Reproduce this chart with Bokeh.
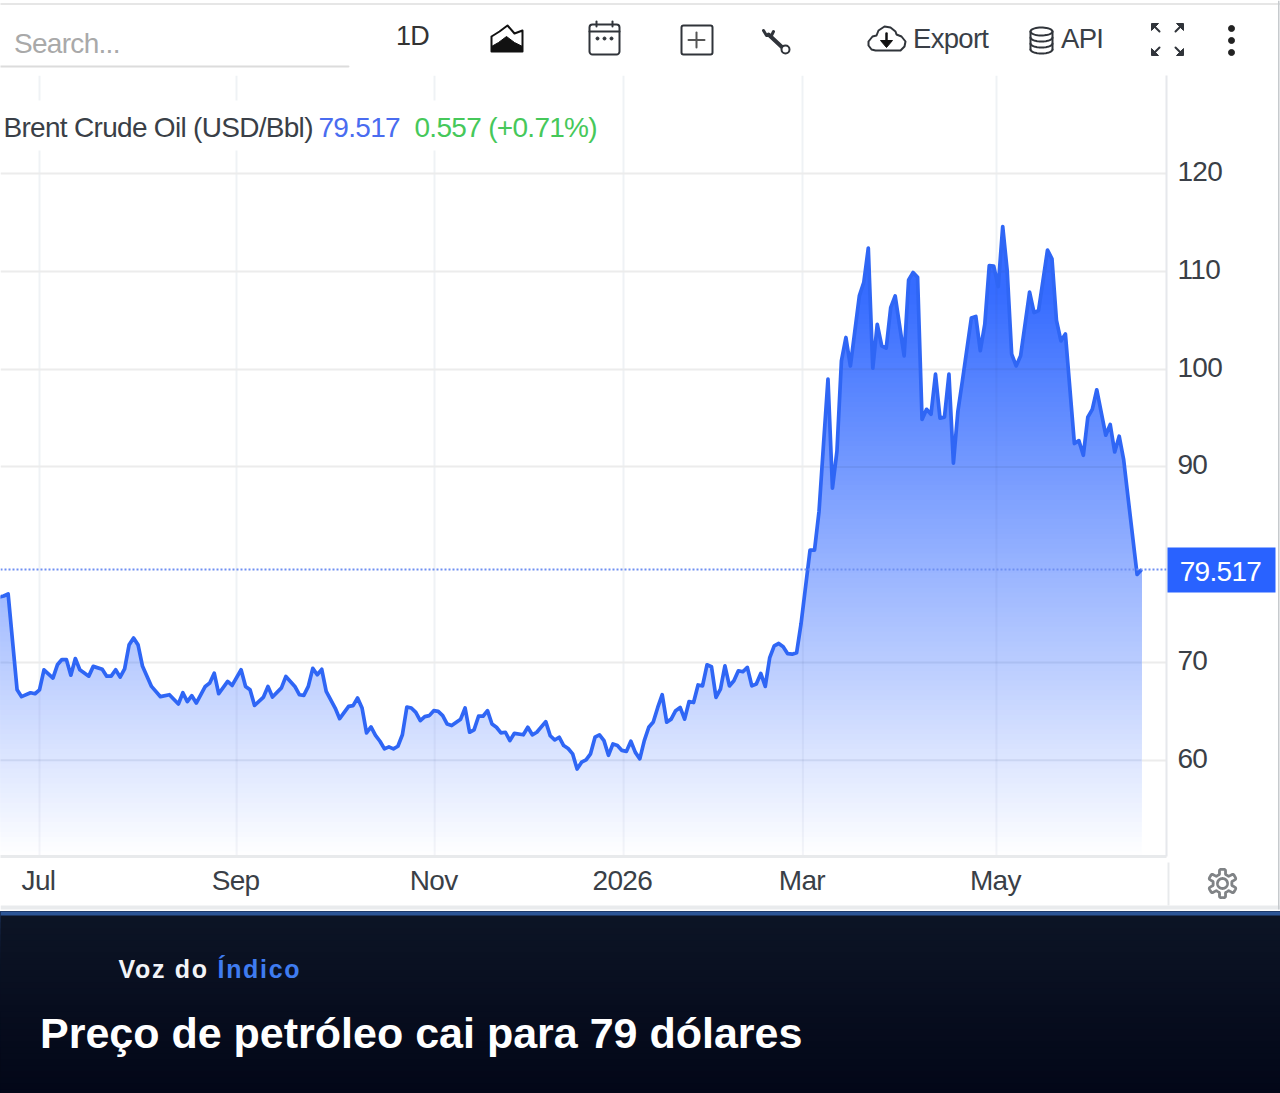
import numpy as np
from bokeh.core.properties import value
from bokeh.embed import file_html
from bokeh.layouts import column
from bokeh.models import FixedTicker, Range1d, Span, BoxAnnotation, Label
from bokeh.plotting import figure
from bokeh.resources import INLINE

# ---------- data (session number = trading day counted from 1 July 2025) ----------
sessions_h2 = [-9,-8,-7,-5,-4,-2,-1,0,1,3,4,5,6,7,8,9,11,12,14,15,16,17,18,19,20,21,22,23,25,27,29,31,32,33,34,35,
               37,38,39,40,42,43,45,46,47,48,50,51,52,54,55,57,58,59,60,61,62,63,64,66,67,69,70,71,72,73,74,75,76,
               77,78,79,80,81,82,83,84,85]
prices_h2 = [76.7,76.8,77.0,67.2,66.5,66.9,66.8,67.2,69.25,68.4,69.76,70.3,70.3,68.7,70.4,69.25,68.6,69.6,69.3,68.6,
             68.6,69.25,68.5,69.35,71.8,72.5,71.8,69.6,67.55,66.5,66.7,65.75,66.9,66.0,66.6,65.85,67.55,67.9,68.9,
             66.8,68.06,67.65,69.25,67.55,67.2,65.6,66.46,67.55,66.46,67.4,68.57,67.55,66.7,66.63,67.55,69.4,68.74,
             69.3,67.04,65.34,64.25,65.5,65.58,66.36,65.34,62.8,63.4,62.55,61.94,61.16,61.36,61.16,61.43,62.6,65.44,
             65.34,64.9,64.05]
sessions_mid = [86,87,88,89,90,91,92,94,95,96,97,98,99,100,101,102,103,104,105,106,108,109,110,111,113,114,115,116,117,
                118,119,120,121,122,123,124,125,126,127,128,129,130,131,132,133,134,135,136,137,138,139,140,141,142,
                143,144,145,146,147,148,149,150,151,152,153,154,155,156,157,158,159,160,161,162,163,164,165,166,167,
                168,169]
prices_mid = [64.46,64.56,65.07,65.0,64.56,63.7,63.54,64.2,65.34,62.86,63.1,64.5,64.5,65.07,63.7,63.37,62.8,62.86,62.0,
              62.75,62.6,63.37,62.6,62.86,63.95,62.5,62.07,62.35,61.5,61.2,60.65,59.1,59.8,60.03,60.65,62.35,62.6,
              62.0,60.5,61.67,61.5,61.0,60.9,61.94,60.8,60.14,62.0,63.37,63.9,65.4,66.7,63.9,64.2,65.07,65.4,64.2,
              66.0,65.9,67.7,67.6,69.76,69.56,66.43,67.28,69.66,67.6,68.13,69.15,69.05,69.5,67.6,67.8,68.88,67.55,
              70.5,71.7,71.94,71.6,70.9,70.85,71.0]
sessions_2026 = [170,172,173,174,175,176,177,178,179,180,181,183,184,185,186,187,188,189,190,191,193,194,195,196,197,198,
                 199,200,201,202,203,204,205,206,208,209,210,211,212,213,214,215,216,217,218,219,221,222,223,225,226,
                 227,228,229,231,232,233,234,235,236,238,239,240,241,242,243,245,246]
prices_2026 = [74.0,81.5,81.5,85.45,92.3,99.0,87.84,91.6,100.86,103.25,100.34,107.5,108.9,112.4,100.1,104.6,102.4,
               102.16,106.3,107.5,101.37,109.14,109.9,109.4,94.86,95.9,95.4,99.5,95.0,95.1,99.5,90.4,95.7,98.8,105.24,
               105.4,101.9,104.6,110.6,110.55,108.46,114.6,110.1,101.54,100.34,101.37,107.9,105.8,106.0,112.2,111.3,
               105.0,102.9,103.6,92.4,92.7,91.2,95.1,95.9,97.9,93.25,94.35,91.54,93.15,90.75,86.8,79.0,79.517]
last_price = 79.517
y_ticks = [60, 70, 80, 90, 100, 110, 120]
x_ticks = [0, 44, 88.2, 130.4, 170.4, 213.6]
x_labels = ["Jul", "Sep", "Nov", "2026", "Mar", "May"]

sessions = np.array(sessions_h2 + sessions_mid + sessions_2026, dtype=float)
prices = np.array(prices_h2 + prices_mid + prices_2026, dtype=float)

W, H_TOP, H_CHART, H_F1, H_F2 = 1280, 75, 836, 89, 93
FRAME_R, FRAME_B = 1166, 856
SANS = "Liberation Sans"
TXT = "#3a3f47"
BLUE = "#2f66f5"


def pixel_fig(height, y0, y1, bg="white", **styles):
    f = figure(width=W, height=height, x_range=Range1d(0, W), y_range=Range1d(y1, y0),
               output_backend="svg", toolbar_location=None, min_border=0, frame_align=False,
               x_axis_type=None, y_axis_type=None, outline_line_color=None)
    f.grid.visible = False
    f.background_fill_color = bg
    f.border_fill_color = bg
    if styles:
        f.styles = styles
    return f


# ---------- toolbar strip ----------
top = pixel_fig(H_TOP, 0, 75, **{"letter-spacing": "-0.7px"})


def ttext(x, y, s, color=TXT, size=28):
    top.text([x], [y], text=[s], text_font=value(SANS), text_font_size=f"{size}px", text_color=color,
             text_baseline="middle", text_align="left")


def tline(xs, ys, color="#30343a", w=2.0):
    top.line(xs, ys, line_color=color, line_width=w, line_join="round", line_cap="round")


tline([0, 1280], [3.5, 3.5], "#e6e6e6", 2)
tline([0, 348], [66, 66], "#dcdcdc", 2)
ttext(13.5, 43, "Search...", "#a9a9a9", 28)
ttext(395.5, 35.5, "1D", "#333333", 27)
ttext(912.5, 37.5, "Export", TXT, 27.5)
ttext(1060.5, 37.5, "API", TXT, 27.5)
# area-chart icon
tline([491, 499, 507, 514, 522, 522, 491, 491], [36, 31, 25, 33, 30, 51, 51, 36], "#111111", 2)
top.patch([491, 498, 506, 514, 522, 522, 491], [46, 42, 36, 42, 46, 51, 51], fill_color="#111111", line_color="#111111")
# calendar icon
top.quad(left=[589], right=[619], top=[24], bottom=[54], fill_color=None, line_color="#30343a", line_width=2,
         border_radius=3)
tline([589, 619], [31, 31])
tline([596, 596], [21, 26])
tline([612, 612], [21, 26])
top.scatter([597, 604, 611], [38, 38, 38], size=3, color="#30343a")
# plus icon
top.quad(left=[681], right=[712], top=[25], bottom=[54], fill_color=None, line_color="#30343a", line_width=2,
         border_radius=2)
tline([688, 704], [39.5, 39.5], "#555555", 2)
tline([696, 696], [32, 47], "#555555", 2)
# wrench icon
tline([768, 783], [34, 48], "#30343a", 4)
tline([763, 766, 771, 773], [30, 35, 35, 31], "#30343a", 3)
top.circle([785], [49], radius=4, fill_color="white", line_color="#30343a", line_width=2)
# cloud icon
tline([875, 871, 868, 868, 872, 876, 878, 884, 890, 895, 896, 901, 905, 904, 900, 875],
      [50, 49, 45, 41, 36, 35, 30, 26, 27, 31, 34, 36, 41, 46, 50, 50])
tline([886, 886], [33, 42], "#111111", 2.5)
top.patch([880, 892, 886], [40, 40, 47], fill_color="#111111", line_color="#111111")
# database icon
t = np.linspace(0, 2 * np.pi, 40)
tline(1041 + 11 * np.cos(t), 31 + 4 * np.sin(t))
for yc in (37, 43, 49):
    tt = np.linspace(0, np.pi, 20)
    tline(1041 + 11 * np.cos(tt), yc + 4 * np.sin(tt))
tline([1030, 1030], [31, 49])
tline([1052, 1052], [31, 49])
# fullscreen icon
for cx, cy, dx, dy in ((1156, 28, -1, -1), (1178, 28, 1, -1), (1156, 50, -1, 1), (1178, 50, 1, 1)):
    tline([cx - 3 * dx, cx + 3 * dx], [cy - 3 * dy, cy + 3 * dy], "#30343a", 2)
    top.patch([cx + 5 * dx, cx - 2 * dx, cx + 5 * dx], [cy + 5 * dy, cy + 5 * dy, cy - 2 * dy],
              fill_color="#30343a", line_color="#30343a")
# menu dots
top.circle([1231, 1231, 1231], [28, 40, 52], radius=3, color="#222222")

# ---------- chart ----------
PX_PER_SESSION = 4.48
X0_PX = 39.0
x_start = -X0_PX / PX_PER_SESSION
x_end = (FRAME_R - X0_PX) / PX_PER_SESSION
PX_PER_USD = 9.774
y_start = 60 - (FRAME_B - 759.7) / PX_PER_USD
y_end = 60 + (759.7 - H_TOP) / PX_PER_USD
LABEL_LIFT = 0.205   # axis labels sit 2px above their grid lines

p = figure(width=W, height=H_CHART, x_range=Range1d(x_start, x_end), y_range=Range1d(y_start, y_end),
           output_backend="svg", toolbar_location=None, y_axis_location="right", frame_align=False,
           min_border_left=0, min_border_top=0, min_border_bottom=H_TOP + H_CHART - FRAME_B,
           min_border_right=W - FRAME_R, outline_line_color=None)
p.styles = {"letter-spacing": "-0.7px"}
p.background_fill_color = "white"
p.border_fill_color = "white"
p.extra_y_ranges = {"labels": Range1d(y_start - LABEL_LIFT, y_end - LABEL_LIFT)}
p.yaxis[0].y_range_name = "labels"

p.xaxis.ticker = FixedTicker(ticks=x_ticks)
p.xaxis.major_label_overrides = {t_: l_ for t_, l_ in zip(x_ticks, x_labels)}
p.yaxis.ticker = FixedTicker(ticks=y_ticks)
p.yaxis.major_label_overrides = {80: ""}
for ax in (p.xaxis[0], p.yaxis[0]):
    ax.major_tick_line_color = None
    ax.minor_tick_line_color = None
    ax.major_label_text_font = SANS
    ax.major_label_text_font_size = "28px"
    ax.major_label_text_color = TXT
p.xaxis.axis_line_color = "#e8eaec"
p.xaxis.axis_line_width = 3
p.yaxis.axis_line_color = "#e6e8ec"
p.yaxis.axis_line_width = 2
p.xaxis.major_label_standoff = 2
p.yaxis.major_label_standoff = 5
p.xgrid.grid_line_color = "#eff2f5"
p.xgrid.grid_line_width = 2
p.ygrid.grid_line_color = "#ececec"
p.ygrid.grid_line_width = 2
p.xgrid.ticker = FixedTicker(ticks=x_ticks)
y_grid_values = [t_ for t_ in y_ticks if t_ != 80]
p.ygrid.ticker = FixedTicker(ticks=y_grid_values)


def layer(level):
    d = prices - level
    i = np.where(d[:-1] * d[1:] < 0)[0]
    xc = sessions[i] + (level - prices[i]) / (prices[i + 1] - prices[i]) * (sessions[i + 1] - sessions[i])
    xs = np.sort(np.concatenate([sessions, xc]))
    return xs, np.interp(xs, sessions, prices)


# opaque bands, each reaching from its level up to the price line, fade the fill without seams
rgb = np.array([0x2e, 0x66, 0xff])
for lv in np.arange(y_start, 115.5, 0.5):
    A = float(np.clip((lv + 0.25 - y_start) / 60.0, 0, 0.96))
    r_, g_, b_ = np.round(255 + (rgb - 255) * A).astype(int)
    xs, ys = layer(lv)
    p.varea(xs, np.minimum(lv, ys), ys, fill_color=f"#{r_:02x}{g_:02x}{b_:02x}")
# the grid shows faintly through the fill
for g_val in y_grid_values:
    xs, ys = layer(g_val)
    p.varea(xs, np.minimum(g_val - 0.1, ys), np.minimum(g_val + 0.1, ys), fill_color="#26407f", fill_alpha=0.10)
p.segment(x_ticks, [y_start] * len(x_ticks), x_ticks, list(np.interp(x_ticks, sessions, prices)),
          line_color="#26407f", line_alpha=0.05, line_width=2)

p.add_layout(Span(location=last_price, dimension="width", line_color="#6f8ff2", line_width=2, line_dash="2 2"))
p.line(sessions, prices, line_color=BLUE, line_width=3.7, line_join="round")


def sy(py):
    return FRAME_B - py


p.add_layout(BoxAnnotation(left=0, right=600, top=sy(100), bottom=sy(150), left_units="screen", right_units="screen",
                           top_units="screen", bottom_units="screen", fill_color="white", fill_alpha=1,
                           line_color=None))


def lab(x, py, s, color=TXT, size=28, align="left"):
    p.add_layout(Label(x=x, y=sy(py), x_units="screen", y_units="screen", text=s, text_font=SANS,
                       text_font_size=f"{size}px", text_color=color, text_baseline="middle", text_align=align))


lab(3, 127, "Brent Crude Oil (USD/Bbl)")
lab(318, 127, "79.517", "#4a6cf0")
lab(414, 127, "0.557 (+0.71%)", "#46c85a")

# ---------- caption band ----------
c_top = np.array([13, 21, 38])
c_bot = np.array([3, 7, 24])


def band(f, y0, y1):
    for yy in np.arange(y0, y1, 6):
        k = (yy - 914) / (1093 - 914)
        r_, g_, b_ = (c_top + (c_bot - c_top) * max(k, 0)).astype(int)
        f.quad(left=[0], right=[W], top=[yy - 1], bottom=[y1 + 1], fill_color=f"#{r_:02x}{g_:02x}{b_:02x}",
               line_color=None)


f1 = pixel_fig(H_F1, 911, 1000, bg="#0a1122", **{"letter-spacing": "1.7px", "background-color": "#2c5596"})
band(f1, 911, 1000)
f1.quad(left=[0], right=[W], top=[910], bottom=[915], fill_color="#2c5596", line_color=None)
f1.text([118], [968], text=["Voz do"], text_font=value(SANS), text_font_size="25px", text_font_style="bold",
        text_color="#f2f4f8", text_baseline="middle")
f1.text([217], [968], text=["Índico"], text_font=value(SANS), text_font_size="25px", text_font_style="bold",
        text_color="#3f7cf0", text_baseline="middle")
f2 = pixel_fig(H_F2, 1000, 1093, bg="#0a1122", **{"background-color": "#080f20"})
band(f2, 1000, 1093)
f2.text([39.5], [1032], text=["Preço de petróleo cai para 79 dólares"], text_font=value(SANS), text_font_size="43px",
        text_font_style="bold", text_color="white", text_baseline="middle")

# ---------- pieces on the page around the plot area ----------
deco = pixel_fig(1093, 0, 1093, bg=None, **{"letter-spacing": "-0.7px", "position": "absolute", "left": "0px",
                                            "top": "0px"})
deco.quad(left=[1167], right=[1275], top=[547], bottom=[592], fill_color="#2962ff", line_color=None)
deco.text([1222], [571], text=["79.517"], text_font=value(SANS), text_font_size="28px", text_color="white",
          text_align="center", text_baseline="middle")
deco.quad(left=[1167], right=[1169], top=[862], bottom=[905], fill_color="#e8eaec", line_color=None)
deco.quad(left=[0], right=[W], top=[905], bottom=[909], fill_color="#e9ebed", line_color=None)
deco.quad(left=[1277.5], right=[1279], top=[0], bottom=[909], fill_color="#c6cacd", line_color=None)
ang = np.linspace(0, 2 * np.pi, 145)
rad = 11.8 + 2.4 * np.tanh(4 * np.cos(6 * ang))
deco.line(1222 + rad * np.sin(ang), 883 + rad * np.cos(ang), line_color="#808386", line_width=2.8)
deco.line(1222 + 5 * np.sin(ang), 883 + 5 * np.cos(ang), line_color="#808386", line_width=2.8)

page = column(top, p, f1, f2, deco, spacing=0)
page.styles = {"position": "absolute", "left": "0px", "top": "0px"}
open("out.html", "w").write(file_html(page, INLINE))
